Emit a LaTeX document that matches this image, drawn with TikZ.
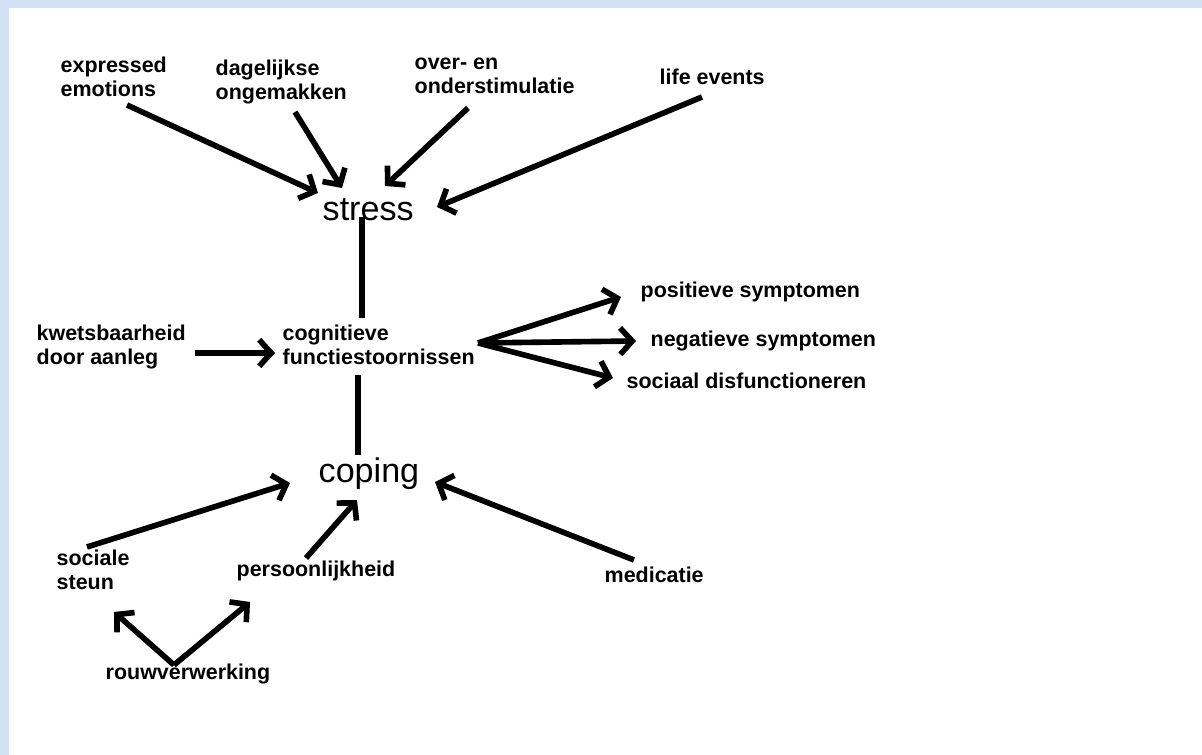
\documentclass[tikz,border=0pt]{standalone}
\usepackage{fontspec}
\setmainfont{Liberation Sans}
\usetikzlibrary{arrows.meta,calc}
\definecolor{bgblue}{RGB}{210,225,243}
\begin{document}
\begin{tikzpicture}[x=0.01cm,y=-0.01cm,
	lbl/.style={anchor=west,inner sep=0pt,align=left,font=\fontsize{6.1}{6.8}\selectfont\bfseries},
	big/.style={anchor=west,inner sep=0pt,font=\fontsize{9.7}{11}\selectfont},
	arr/.style={line width=1.6pt,-{Straight Barb[length=3.4pt,width=7.5pt]}},
	lin/.style={line width=1.6pt}]
	
	\useasboundingbox (0,0) rectangle (1202,755);
	\fill [bgblue] (0,0) rectangle (1202,755);
	\fill [white] (9,8) rectangle (1202,755);
	
	% top labels
	\node [lbl] (emo) at (60,77) {expressed\\emotions};
	\node [lbl] (dag) at (215,82) {dagelijkse\\ongemakken};
	\node [lbl] (over) at (414,76) {over- en\\onderstimulatie};
	\node [lbl] (life) at (659,77) {life events};
	
	\node [big] (stress) at (322,210) {stress};
	
	\draw [arr] ($(emo.west)+(67,28)$) -- ($(stress.west)+(-4,-17)$);
	\draw [arr] ($(dag.west)+(80,30)$) -- ($(stress.west)+(20,-22)$);
	\draw [arr] ($(over.west)+(54,32)$) -- ($(stress.west)+(63,-24)$);
	\draw [arr] ($(life.west)+(43,20)$) -- ($(stress.west)+(115,-3)$);
	
	% middle
	\node [lbl] (cog) at (282,345) {cognitieve\\functiestoornissen};
	\node [lbl] (kwets) at (36,347) {kwetsbaarheid\\door aanleg};
	\node [lbl] (pos) at (640,292) {positieve symptomen};
	\node [lbl] (neg) at (650,341) {negatieve symptomen};
	\node [lbl] (soc) at (626,381) {sociaal disfunctioneren};
	
	\draw [lin] ($(stress.west)+(40,7)$) -- ($(cog.west)+(80,-27)$);
	\draw [arr] ($(kwets.west)+(159,6)$) -- ($(cog.west)+(-7,8)$);
	
	\draw [arr] ($(cog.west)+(196,-2)$) -- ($(pos.west)+(-19,5)$);
	\draw [arr] ($(cog.west)+(196,-2)$) -- ($(neg.west)+(-14,0)$);
	\draw [arr] ($(cog.west)+(196,-2)$) -- ($(soc.west)+(-13,-3)$);
	
	% bottom
	\node [big] (coping) at (318,474) {coping};
	\draw [lin] ($(cog.west)+(76,30)$) -- ($(coping.west)+(40,-19)$);
	
	\node [lbl] (sociale) at (56,570) {sociale\\steun};
	\node [lbl] (pers) at (236,571) {persoonlijkheid};
	\node [lbl] (med) at (604,575) {medicatie};
	\node [lbl] (rouw) at (105,674) {rouwverwerking};
	
	\draw [arr] ($(sociale.west)+(31,-23)$) -- ($(coping.west)+(-28,9)$);
	\draw [arr] ($(pers.west)+(70,-13)$) -- ($(coping.west)+(39,26)$);
	\draw [arr] ($(med.west)+(30,-15)$) -- ($(coping.west)+(117,8)$);
	
	\draw [arr] ($(rouw.west)+(69,-9)$) -- ($(sociale.west)+(58,42)$);
	\draw [arr] ($(rouw.west)+(69,-9)$) -- ($(pers.west)+(14,31)$);
	
\end{tikzpicture}
\end{document}
